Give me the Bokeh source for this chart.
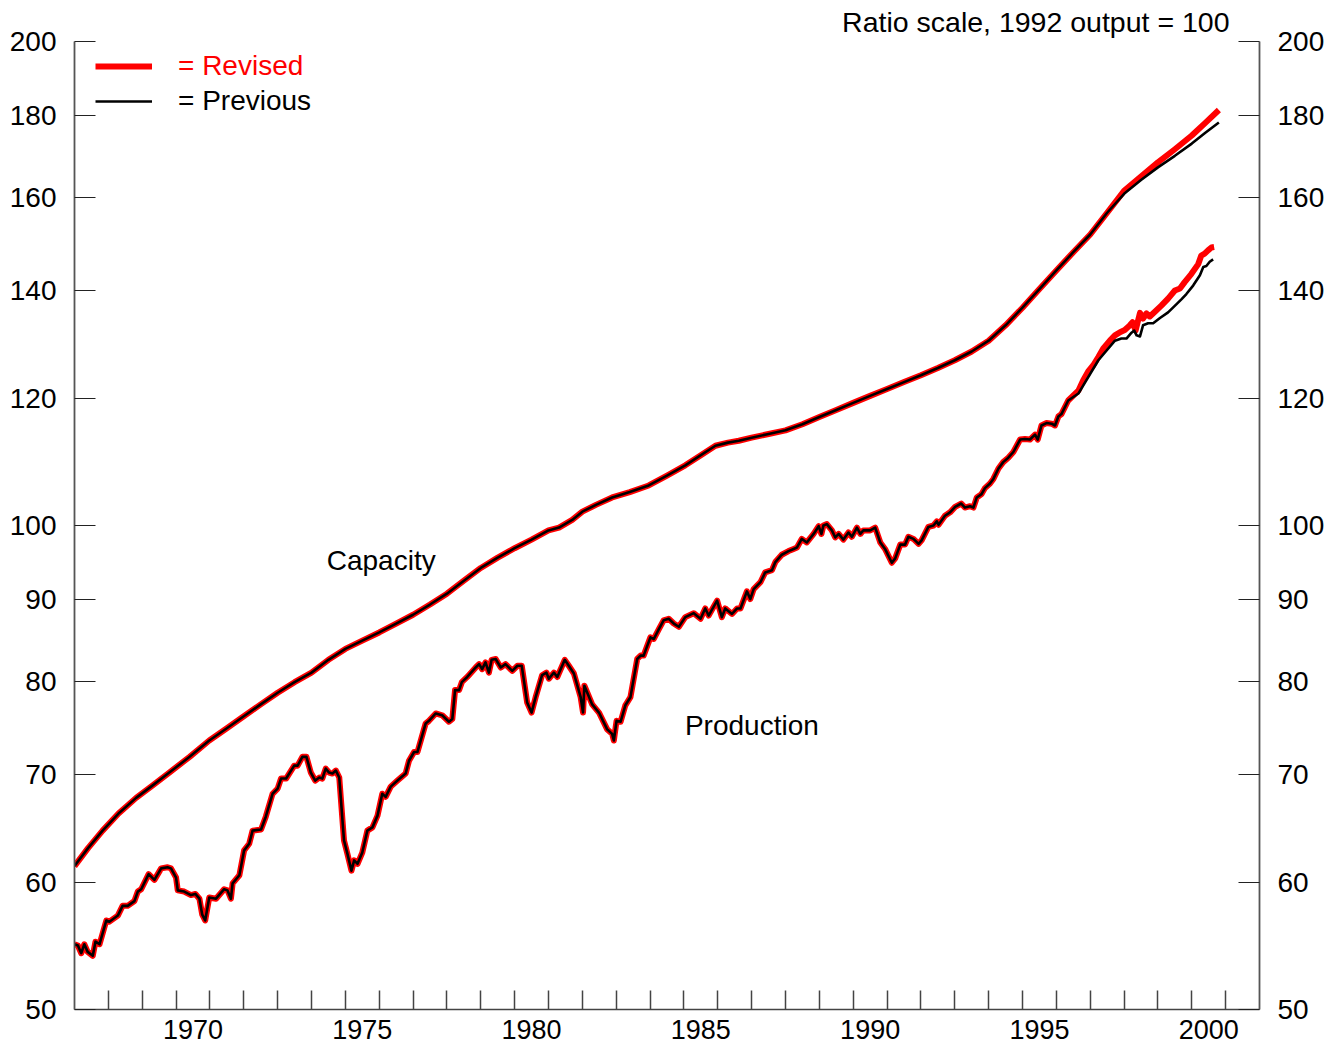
from bokeh.plotting import figure
from bokeh.models import (Range1d, FixedTicker, LogAxis, CustomJSTickFormatter,
                          Label, Legend, LegendItem)
from bokeh.embed import file_html
from bokeh.resources import INLINE

# ---------------- data (index, 1992 output = 100, ratio scale) ----------------
prod_years = [1967.00,1967.10,1967.20,1967.29,1967.39,1967.54,1967.62,1967.74,1967.94,1968.03,
              1968.28,1968.42,1968.57,1968.77,1968.87,1968.97,1969.19,1969.36,1969.56,1969.75,
              1969.85,1970.00,1970.05,1970.24,1970.44,1970.57,1970.69,1970.77,1970.86,1970.98,
              1971.18,1971.42,1971.52,1971.62,1971.67,1971.87,1972.01,1972.16,1972.26,1972.51,
              1972.65,1972.85,1973.00,1973.10,1973.25,1973.49,1973.59,1973.73,1973.85,1973.98,
              1974.11,1974.23,1974.32,1974.42,1974.52,1974.62,1974.72,1974.82,1974.96,1975.06,
              1975.18,1975.26,1975.36,1975.50,1975.65,1975.80,1975.95,1976.09,1976.19,1976.34,
              1976.54,1976.78,1976.88,1977.03,1977.13,1977.37,1977.47,1977.67,1977.86,1978.06,
              1978.16,1978.24,1978.36,1978.44,1978.60,1978.85,1978.95,1979.04,1979.14,1979.24,
              1979.32,1979.44,1979.59,1979.73,1979.93,1980.08,1980.21,1980.37,1980.50,1980.62,
              1980.81,1980.94,1981.01,1981.16,1981.26,1981.48,1981.60,1981.75,1981.95,1982.02,
              1982.06,1982.29,1982.49,1982.73,1982.88,1982.93,1983.01,1983.13,1983.27,1983.42,
              1983.62,1983.72,1983.81,1984.01,1984.11,1984.26,1984.40,1984.55,1984.70,1984.85,
              1985.04,1985.29,1985.49,1985.63,1985.73,1985.98,1986.12,1986.22,1986.42,1986.57,
              1986.67,1986.86,1986.96,1987.06,1987.26,1987.40,1987.60,1987.70,1987.89,1988.09,
              1988.24,1988.34,1988.48,1988.63,1988.83,1988.98,1989.06,1989.12,1989.22,1989.37,
              1989.47,1989.57,1989.71,1989.86,1989.96,1990.11,1990.21,1990.30,1990.50,1990.65,
              1990.80,1990.94,1991.14,1991.24,1991.39,1991.53,1991.63,1991.78,1991.93,1992.02,
              1992.22,1992.37,1992.47,1992.52,1992.71,1992.86,1993.01,1993.19,1993.30,1993.45,
              1993.55,1993.65,1993.79,1993.89,1994.04,1994.14,1994.29,1994.43,1994.58,1994.73,
              1994.93,1995.07,1995.22,1995.37,1995.45,1995.56,1995.71,1995.86,1995.96,1996.06,
              1996.15,1996.35]
prod_values = [54.9,54.8,54.2,54.9,54.3,54.0,55.1,54.9,56.8,56.7,
               57.2,58.0,58.0,58.4,59.2,59.4,60.7,60.2,61.2,61.3,
               61.2,60.4,59.3,59.2,58.9,59.0,58.6,57.3,56.8,58.7,
               58.6,59.4,59.3,58.6,59.9,60.6,62.8,63.4,64.6,64.7,
               65.9,68.1,68.6,69.6,69.6,70.9,70.9,71.8,71.8,70.2,
               69.4,69.7,69.6,70.6,70.2,70.1,70.4,69.7,63.7,62.5,
               61.0,61.9,61.6,62.6,64.6,64.9,66.0,68.1,67.8,68.8,
               69.4,70.1,71.4,72.3,72.3,75.3,75.6,76.4,76.2,75.5,
               75.8,79.0,79.0,79.9,80.5,81.6,82.0,81.4,82.2,81.0,
               82.5,82.6,81.6,82.0,81.2,81.8,81.8,77.6,76.5,78.2,
               80.7,81.0,80.3,81.0,80.5,82.5,81.8,80.9,78.2,76.5,
               79.5,77.4,76.5,74.7,74.2,73.5,75.6,75.5,77.3,78.2,
               82.6,83.0,83.0,85.2,85.0,86.2,87.3,87.5,86.9,86.5,
               87.7,88.2,87.5,88.8,87.9,89.8,87.7,88.8,88.1,88.8,
               88.8,91.0,90.0,91.3,92.2,93.5,93.8,94.9,95.9,96.4,
               96.7,96.9,98.1,97.6,98.8,99.9,98.8,100.0,100.2,99.3,
               98.3,98.8,98.0,99.0,98.4,99.7,98.8,99.3,99.3,99.7,
               97.6,96.7,94.8,95.4,97.3,97.3,98.4,98.1,97.4,97.9,
               99.8,100.0,100.6,100.1,101.4,101.9,102.7,103.2,102.6,102.8,
               102.6,104.1,104.6,105.5,106.2,106.9,108.5,109.5,110.2,111.1,
               113.1,113.2,113.1,113.9,113.1,115.4,115.8,115.7,115.4,116.9,
               117.3,119.6]

# production after mid-1996: revised vs previous estimates
prod_rev_tail_years = [1996.65,1996.79,1996.94,1997.09,1997.24,1997.38,1997.58,1997.73,1997.88,1998.02,
                       1998.17,1998.25,1998.34,1998.47,1998.56,1998.66,1998.76,1998.91,1999.10,1999.30,
                       1999.50,1999.65,1999.79,1999.99,2000.19,2000.28,2000.38,2000.48,2000.58,2000.66]
prod_rev_tail_values = [121.3,123.1,124.7,125.8,127.3,128.8,130.3,131.3,131.9,132.3,
                        133.2,133.8,132.2,135.6,134.5,135.5,134.9,135.8,137.0,138.4,
                        140.0,140.4,141.7,143.4,145.4,147.2,147.6,148.3,148.9,149.0]
prod_prev_tail_years = [1996.65,1997.24,1997.73,1997.92,1998.07,1998.22,1998.30,1998.37,1998.47,1998.56,
                        1998.71,1998.86,1999.06,1999.30,1999.55,1999.70,1999.84,2000.04,2000.24,2000.34,
                        2000.43,2000.53,2000.63]
prod_prev_tail_values = [120.8,126.7,130.3,130.7,130.7,131.8,132.2,131.3,131.1,133.2,
                         133.6,133.6,134.6,135.7,137.3,138.3,139.3,141.0,143.1,144.8,
                         145.0,145.9,146.4]

cap_years = [1967.0,1967.4,1967.83,1968.3,1968.82,1969.3,1969.80,1970.4,1970.98,1971.5,
             1972.0,1972.5,1973.0,1973.5,1974.0,1974.5,1975.0,1975.5,1976.0,1976.5,
             1977.0,1977.5,1978.0,1978.5,1979.0,1979.5,1980.0,1980.5,1981.0,1981.31,
             1981.7,1982.0,1982.4,1982.88,1983.4,1983.96,1984.5,1985.04,1985.5,1985.93,
             1986.3,1986.62,1987.0,1987.5,1988.0,1988.5,1989.0,1989.5,1990.0,1990.5,
             1991.0,1991.5,1992.0,1992.5,1993.0,1993.5,1994.0,1994.5,1995.0,1995.5,
             1996.0,1996.5,1997.0,1997.5]
cap_values = [61.4,63.0,64.6,66.2,67.7,68.9,70.2,71.8,73.5,74.8,
              76.1,77.4,78.7,79.9,81.0,82.5,83.8,84.8,85.8,86.9,
              88.0,89.3,90.7,92.4,94.1,95.5,96.8,98.0,99.3,99.7,
              100.8,102.0,103.0,104.1,104.9,105.9,107.4,109.0,110.6,112.1,
              112.6,112.9,113.4,114.0,114.6,115.6,116.8,118.0,119.2,120.4,
              121.6,122.8,124.0,125.3,126.7,128.3,130.3,133.2,136.6,140.3,
              144.1,147.9,151.7,156.5]
cap_rev_tail_years = [1998.0,1998.5,1999.0,1999.5,2000.0,2000.4,2000.8]
cap_rev_tail_values = [161.5,164.8,168.2,171.4,174.8,178.0,181.3]
cap_prev_tail_years = [1998.0,1998.5,1999.0,1999.5,2000.0,2000.4,2000.8]
cap_prev_tail_values = [160.8,164.0,167.0,169.8,172.8,175.5,178.1]

y_tick_values = [50, 60, 70, 80, 90, 100, 120, 140, 160, 180, 200]
year_ticks = list(range(1968, 2002))
label_years = [1970, 1975, 1980, 1985, 1990, 1995, 2000]

title_text = "Ratio scale, 1992 output = 100"
capacity_label = ("Capacity", 1974.45, 95.1)
production_label = ("Production", 1985.03, 75.1)

# ---------------- series assembly ----------------
prod_rev_x = prod_years + prod_rev_tail_years
prod_rev_y = prod_values + prod_rev_tail_values
prod_prev_x = prod_years + prod_prev_tail_years
prod_prev_y = prod_values + prod_prev_tail_values
cap_rev_x = cap_years + cap_rev_tail_years
cap_rev_y = cap_values + cap_rev_tail_values
cap_prev_x = cap_years + cap_prev_tail_years
cap_prev_y = cap_values + cap_prev_tail_values

FONT = "Liberation Sans"
RED = "#ff0000"

p = figure(width=1340, height=1050, x_range=Range1d(1967, 2002), y_range=Range1d(50, 200),
           y_axis_type="log", output_backend="svg", toolbar_location=None,
           min_border_left=74, min_border_right=81, min_border_top=41, min_border_bottom=41)
p.outline_line_color = None
p.xgrid.visible = False
p.ygrid.visible = False
p.background_fill_color = "white"
p.border_fill_color = "white"

# title at top right
p.title.text = title_text
p.title.align = "right"
p.title.text_font = FONT
p.title.text_font_size = "28.5px"
p.title.text_font_style = "normal"
p.title.text_color = "black"
p.title.standoff = 7
p.title.offset = 30

# x axis: yearly ticks (as minor), labels at mid-year
xa = p.xaxis[0]
xa.ticker = FixedTicker(ticks=[y + 0.5 for y in label_years], minor_ticks=year_ticks)
xa.formatter = CustomJSTickFormatter(code="return Math.floor(tick).toString();")
xa.major_tick_in = 0
xa.major_tick_out = 0
xa.minor_tick_in = 19
xa.minor_tick_out = 0
xa.minor_tick_line_color = "#444444"
xa.minor_tick_line_width = 1.5
xa.axis_line_color = "#444444"
xa.axis_line_width = 1.5
xa.major_label_text_font = FONT
xa.major_label_text_font_size = "27px"
xa.major_label_text_color = "black"
xa.major_label_standoff = 10

def style_y(ax):
    ax.ticker = FixedTicker(ticks=y_tick_values, minor_ticks=[])
    ax.formatter = CustomJSTickFormatter(code="return tick.toFixed(0);")
    ax.major_tick_in = 21
    ax.major_tick_out = 0
    ax.minor_tick_in = 0
    ax.minor_tick_out = 0
    ax.major_tick_line_color = "#222222"
    ax.major_tick_line_width = 1.2
    ax.axis_line_color = "#555555"
    ax.axis_line_width = 1.8
    ax.major_label_text_font = FONT
    ax.major_label_text_font_size = "28px"
    ax.major_label_text_color = "black"
    ax.major_label_standoff = 18

style_y(p.yaxis[0])
ry = LogAxis()
style_y(ry)
p.add_layout(ry, "right")

# lines: revised (thick red) under previous (thin black)
r_cap_rev = p.line(cap_rev_x, cap_rev_y, line_color=RED, line_width=6, line_join="round")
r_prod_rev = p.line(prod_rev_x, prod_rev_y, line_color=RED, line_width=6, line_join="round")
r_cap_prev = p.line(cap_prev_x, cap_prev_y, line_color="black", line_width=2.6, line_join="round")
r_prod_prev = p.line(prod_prev_x, prod_prev_y, line_color="black", line_width=2.6, line_join="round")

# legends
for label, rend, color, ypos in [("= Revised", r_cap_rev, RED, 927), ("= Previous", r_cap_prev, "black", 892)]:
    lg = Legend(items=[LegendItem(label=label, renderers=[rend])], location=(21, ypos),
                glyph_width=57, glyph_height=30, label_height=30, label_standoff=26,
                label_text_font=FONT, label_text_font_size="28px", label_text_color=color,
                padding=0, margin=0, spacing=0, border_line_color=None,
                background_fill_alpha=0, inactive_fill_alpha=0)
    p.add_layout(lg)

# curve labels
for txt, lx, ly in [capacity_label, production_label]:
    p.add_layout(Label(x=lx, y=ly, text=txt, text_align="left", text_baseline="middle",
                       text_font=FONT, text_font_size="28px", text_color="black"))

open("out.html", "w").write(file_html(p, INLINE))
